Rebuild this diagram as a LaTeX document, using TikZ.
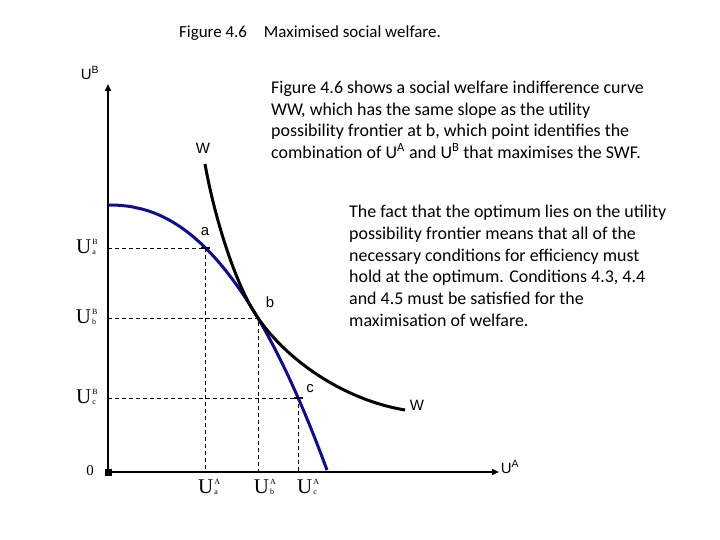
\documentclass[tikz,border=0pt]{standalone}
\usepackage{fontspec}
\setmainfont{Carlito}
\newfontfamily\arialf{Liberation Sans}
\newfontfamily\timesf{Liberation Serif}
\usetikzlibrary{arrows.meta}
\definecolor{upf}{RGB}{12,12,150}
\newcommand{\tickU}[2]{{\timesf\fontsize{21}{21}\selectfont U\kern1bp\rlap{\raisebox{8.8bp}{\fontsize{8}{8}\selectfont #1}}\raisebox{-1.5bp}{\fontsize{8}{8}\selectfont #2}}}
\tikzset{
  axis/.style={line width=2.5bp, -{Triangle[length=7bp,width=6bp]}},
  guide/.style={line width=0.8bp, dash pattern=on 4bp off 3bp},
  ticklab/.style={inner sep=0pt},
  axlab/.style={inner sep=0pt, font=\arialf\fontsize{15}{15}\selectfont},
  ptlab/.style={inner sep=0pt, font=\arialf\fontsize{15}{15}\selectfont},
  para/.style={inner sep=0pt, align=left, anchor=north west, font=\fontsize{18}{21.6}\selectfont}
}
\begin{document}
\begin{tikzpicture}[x=1bp,y=-1bp]
\useasboundingbox (0,0) rectangle (720,540);
% title
\node[inner sep=0pt, font=\fontsize{17}{20}\selectfont] (title) at (310,33) {Figure 4.6\quad Maximised social welfare.};
% points
\coordinate (O) at (108,472);
\coordinate (pa) at (205.6,248);
\coordinate (pb) at (258,318);
\coordinate (pc) at (298.3,398);
\coordinate (yaxa) at (108,248);
\coordinate (yaxb) at (108,318);
\coordinate (yaxc) at (108,398);
\coordinate (xaxa) at (205.6,472);
\coordinate (xaxb) at (258,472);
\coordinate (xaxc) at (298.3,472);
\coordinate (ytop) at (108,84);
\coordinate (xend) at (499,472);
\coordinate (wstart) at (205,164);
\coordinate (wend) at (405,410);
% dashed guides
\draw[guide] (yaxa) -- (pa) -- (xaxa);
\draw[guide] (yaxb) -- (pb) -- (xaxb);
\draw[guide] (yaxc) -- (pc) -- (xaxc);
% axes
\draw[axis] (O) -- (ytop);
\draw[axis] (O) -- (xend);
\fill (104.5,468.5) rectangle (111.5,475.5);
% utility possibility frontier
\draw[upf, line width=3bp] plot[domain=108.5:327, samples=90, smooth] (\x, {205 + 267*exp(2.25*ln((\x-108)/219.7))});
\draw[upf, line width=3bp] (108,205) -- (109,205);
% social welfare indifference curve
\draw[line width=3bp] (wstart) .. controls (214,215) and (235,285) .. (pb)
  .. controls (288,361.5) and (345,400) .. (wend);
% small ticks at points
\draw[line width=1.5bp] (201,248) -- (210,248);
\draw[line width=1.5bp] (294,398) -- (303,398);
% axis labels
\node[axlab] (UB) at (90,73) {U\textsuperscript{B}};
\node[axlab] (UA) at (510,467) {U\textsuperscript{A}};
\node[axlab, font=\timesf\fontsize{15}{15}\selectfont] (zero) at (90,471) {0};
% tick labels
\node[ticklab] (UBa) at (86,247) {\tickU{B}{a}};
\node[ticklab] (UBb) at (86,317) {\tickU{B}{b}};
\node[ticklab] (UBc) at (86,397) {\tickU{B}{c}};
\node[ticklab] (UAa) at (208,487) {\tickU{A}{a}};
\node[ticklab] (UAb) at (264,487) {\tickU{A}{b}};
\node[ticklab] (UAc) at (307,487) {\tickU{A}{c}};
% point labels
\node[ptlab] (Wtop) at (203,148) {W};
\node[ptlab] (la) at (205,232) {a};
\node[ptlab] (lb) at (270,302) {b};
\node[ptlab] (lc) at (310,389) {c};
\node[ptlab] (Wbot) at (417,405) {W};
% text blocks
\node[para] (txt1) at (271,81) {Figure 4.6 shows a social welfare indifference curve\\WW, which has the same slope as the utility\\possibility frontier at b, which point identifies the\\combination of U\textsuperscript{A} and U\textsuperscript{B} that maximises the SWF.};
\node[para, font=\fontsize{18}{21.8}\selectfont] (txt2) at (349,205) {The fact that the optimum lies on the utility\\possibility frontier means that all of the\\necessary conditions for efficiency must\\hold at the optimum. Conditions 4.3, 4.4\\and 4.5 must be satisfied for the\\maximisation of welfare.};
\end{tikzpicture}
\end{document}
